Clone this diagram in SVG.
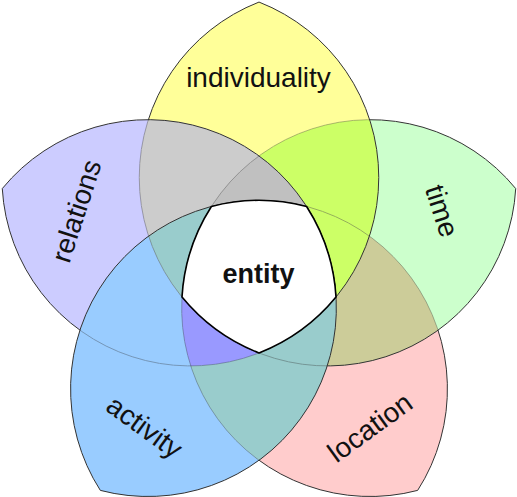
<svg xmlns="http://www.w3.org/2000/svg" xmlns:xlink="http://www.w3.org/1999/xlink" width="517" height="497" viewBox="0 0 517 497">
<style>
.edge{fill:none;stroke:#333;stroke-width:1}
.mk{fill:#5a5a5a}
.lbl{font-family:"Liberation Sans",Arial,sans-serif;font-size:28px;fill:#111;text-anchor:middle;dominant-baseline:central}
.ent{font-family:"Liberation Sans",Arial,sans-serif;font-size:27px;font-weight:bold;fill:#111;text-anchor:middle}
</style>
<defs>
<path id="lY" d="M259,2.06 A188.4,188.4 0 0 1 259,352.96 A188.4,188.4 0 0 1 259,2.06 Z"/>
<path id="lG" d="M515.73,188.58 A188.4,188.4 0 0 1 182,297.02 A188.4,188.4 0 0 1 515.73,188.58 Z"/>
<path id="lPk" d="M417.67,490.39 A188.4,188.4 0 0 1 211.41,206.5 A188.4,188.4 0 0 1 417.67,490.39 Z"/>
<path id="lB" d="M100.33,490.39 A188.4,188.4 0 0 1 306.59,206.5 A188.4,188.4 0 0 1 100.33,490.39 Z"/>
<path id="lPu" d="M2.27,188.58 A188.4,188.4 0 0 1 336,297.02 A188.4,188.4 0 0 1 2.27,188.58 Z"/>
<path id="lW" d="M211.41,206.5 A188.4,188.4 0 0 1 306.59,206.5 A188.4,188.4 0 0 1 336,297.02 A188.4,188.4 0 0 1 259,352.96 A188.4,188.4 0 0 1 182,297.02 A188.4,188.4 0 0 1 211.41,206.5 Z"/>
<clipPath id="kY"><use href="#lY"/></clipPath>
<clipPath id="kG"><use href="#lG"/></clipPath>
<clipPath id="kPk"><use href="#lPk"/></clipPath>
<clipPath id="kB"><use href="#lB"/></clipPath>
<clipPath id="kPu"><use href="#lPu"/></clipPath>
<mask id="mPk" maskUnits="userSpaceOnUse" x="0" y="0" width="517" height="497" color-interpolation="sRGB">
<rect width="517" height="497" fill="#fff"/><use href="#lG" class="mk"/><use href="#lY" class="mk"/><use href="#lPu" class="mk"/><use href="#lB" class="mk"/>
</mask>
<mask id="mG" maskUnits="userSpaceOnUse" x="0" y="0" width="517" height="497" color-interpolation="sRGB">
<rect width="517" height="497" fill="#fff"/><use href="#lY" class="mk"/><use href="#lPu" class="mk"/><use href="#lB" class="mk"/>
</mask>
<mask id="mY" maskUnits="userSpaceOnUse" x="0" y="0" width="517" height="497" color-interpolation="sRGB">
<rect width="517" height="497" fill="#fff"/><use href="#lPu" class="mk"/><use href="#lB" class="mk"/>
</mask>
<mask id="mPu" maskUnits="userSpaceOnUse" x="0" y="0" width="517" height="497" color-interpolation="sRGB">
<rect width="517" height="497" fill="#fff"/><use href="#lB" class="mk"/>
</mask>
</defs>
<rect width="517" height="497" fill="#fff"/>
<g id="fills">
<use href="#lPk" fill="#FFCCCC"/>
<use href="#lG" fill="#CCFFCC"/>
<use href="#lY" fill="#FFFF99"/>
<use href="#lPu" fill="#CCCCFF"/>
<use href="#lB" fill="#99CCFF"/>
<use href="#lY" clip-path="url(#kG)" fill="#CCFF66"/>
<use href="#lG" clip-path="url(#kPk)" fill="#CCCC99"/>
<use href="#lPk" clip-path="url(#kB)" fill="#99CCCC"/>
<use href="#lB" clip-path="url(#kPu)" fill="#99CCFF"/>
<use href="#lPu" clip-path="url(#kY)" fill="#CCCCCC"/>
<use href="#lY" clip-path="url(#kPk)" fill="#CCFF66"/>
<use href="#lG" clip-path="url(#kB)" fill="#99CCCC"/>
<use href="#lPk" clip-path="url(#kPu)" fill="#9999FF"/>
<use href="#lB" clip-path="url(#kY)" fill="#99CCCC"/>
<use href="#lPu" clip-path="url(#kG)" fill="#C0C0C0"/>
</g>
<g id="location">
<use href="#lPk" class="edge" mask="url(#mPk)"/>
<text class="lbl" transform="translate(370,427.5) rotate(-36)">location</text>
</g>
<g id="time">
<use href="#lG" class="edge" mask="url(#mG)"/>
<text class="lbl" transform="translate(442,211) rotate(72)">time</text>
</g>
<g id="individuality">
<use href="#lY" class="edge" mask="url(#mY)"/>
<text class="lbl" transform="translate(258.5,77.5)">individuality</text>
</g>
<g id="relations">
<use href="#lPu" class="edge" mask="url(#mPu)"/>
<text class="lbl" transform="translate(76.5,211) rotate(-72)">relations</text>
</g>
<g id="activity">
<use href="#lB" class="edge"/>
<text class="lbl" transform="translate(144.5,427) rotate(36)">activity</text>
</g>
<g id="entity">
<use href="#lW" fill="#fff" stroke="#000" stroke-width="1.6"/>
<text class="ent" x="258.5" y="283">entity</text>
</g>
<g id="connectors"></g>
</svg>
